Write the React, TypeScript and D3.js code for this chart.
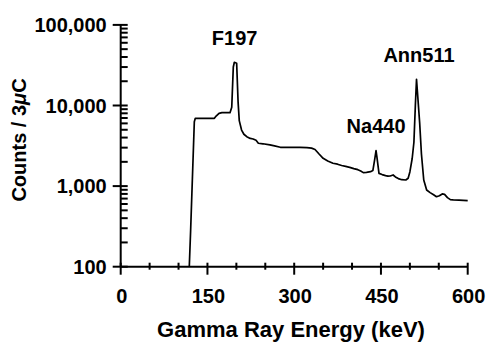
import { useEffect, useRef } from 'react';
import * as d3 from 'd3';

// spectrum: energy (keV) and counts per 3 uC
const energy = [
	118.6, 120.9, 127.3, 129, 162, 165, 170, 175, 189, 192, 194.7, 196.5, 200.5,
	203, 205, 209, 213, 218, 224, 229, 234, 238, 246, 258, 266, 276, 290, 310,
	322, 330, 336, 343, 350, 358, 367, 375, 382, 389, 396, 403, 410, 415, 419.5,
	425, 432, 436, 439, 441.5, 443, 446.6, 452, 458, 462, 466, 471, 475, 480,
	486, 493, 497, 500, 504, 507, 509.5, 511.5, 513, 517, 520, 524, 529, 535,
	541, 546, 551, 556, 560, 565, 570, 575, 585, 600,
];
const counts = [
	100, 280, 6300, 6930, 6930, 7400, 8000, 8150, 8150, 9500, 30000, 34400,
	33500, 11000, 6500, 4960, 4400, 4100, 3900, 3840, 3700, 3400, 3350, 3240,
	3150, 3030, 3030, 3030, 3000, 2960, 2850, 2500, 2210, 2050, 1920, 1870, 1800,
	1760, 1710, 1650, 1600, 1540, 1470, 1480, 1510, 1560, 2100, 2750, 2300, 1440,
	1390, 1350, 1330, 1335, 1374, 1300, 1240, 1200, 1190, 1250, 1500, 2200, 3500,
	10000, 21100, 15000, 6000, 2500, 1190, 895, 830, 780, 738, 760, 800, 790, 720,
	680, 673, 670, 660,
];

const peakNames = ['F197', 'Na440', 'Ann511'];
const peakEnergy = [197, 441.5, 515.8];
const peakLabelAt = [56000, 4560, 34700];

const xTicks = [0, 150, 300, 450, 600];
const xMinor = [50, 100, 200, 250, 350, 400, 500, 550];
const yTicks = [100, 1000, 10000, 100000];

const font = '"Liberation Sans", Arial, sans-serif';

const App = () => {
	const ref = useRef(null);

	useEffect(() => {
		const svg = d3.select(ref.current);
		svg.selectAll('*').remove();

		const x = d3.scaleLinear().domain([0, 600]).range([120.7, 467.7]);
		const y = d3.scaleLog().domain([100, 100000]).range([266.7, 24.9]);

		const ax = svg.append('g').attr('stroke', '#000').attr('stroke-width', 2);

		// y axis line and ticks
		ax.append('line')
			.attr('x1', x(0)).attr('x2', x(0))
			.attr('y1', y(100)).attr('y2', y(100000));
		const yMinor = [];
		for (let d = 100; d < 100000; d *= 10) {
			for (let k = 2; k <= 9; k++) yMinor.push(d * k);
		}
		ax.selectAll('.ymin').data(yMinor).enter().append('line')
			.attr('x1', x(0)).attr('x2', x(0) + 7)
			.attr('y1', (d) => y(d)).attr('y2', (d) => y(d));
		ax.selectAll('.ymaj').data(yTicks).enter().append('line')
			.attr('x1', x(0) - 8).attr('x2', x(0) + 7)
			.attr('y1', (d) => y(d)).attr('y2', (d) => y(d));

		// x axis line and ticks
		ax.append('line')
			.attr('x1', x(0)).attr('x2', x(600))
			.attr('y1', y(100)).attr('y2', y(100));
		ax.selectAll('.xmin').data(xMinor).enter().append('line')
			.attr('x1', (d) => x(d)).attr('x2', (d) => x(d))
			.attr('y1', y(100) - 4).attr('y2', y(100) + 3);
		ax.selectAll('.xmaj').data(xTicks).enter().append('line')
			.attr('x1', (d) => x(d)).attr('x2', (d) => x(d))
			.attr('y1', y(100) - 4).attr('y2', y(100) + 8);

		const fmt = d3.format(',');
		svg.append('g')
			.selectAll('text').data(yTicks).enter().append('text')
			.attr('x', x(0) - 14)
			.attr('y', (d) => y(d))
			.attr('dy', '0.36em')
			.attr('text-anchor', 'end')
			.attr('font-size', 20)
			.text((d) => fmt(d));

		svg.append('g')
			.selectAll('text').data(xTicks).enter().append('text')
			.attr('x', (d) => x(d) + 1)
			.attr('y', y(100) + 36)
			.attr('text-anchor', 'middle')
			.attr('font-size', 20)
			.text((d) => d);

		// spectrum
		const pts = energy.map((e, i) => [e, counts[i]]);
		svg.append('path')
			.datum(pts)
			.attr('fill', 'none')
			.attr('stroke', '#000')
			.attr('stroke-width', 1.7)
			.attr('stroke-linejoin', 'round')
			.attr('d', d3.line().x((d) => x(d[0])).y((d) => y(d[1])));

		svg.append('g')
			.selectAll('text').data(peakNames).enter().append('text')
			.attr('x', (d, i) => x(peakEnergy[i]))
			.attr('y', (d, i) => y(peakLabelAt[i]))
			.attr('text-anchor', 'middle')
			.attr('font-size', 20)
			.text((d) => d);

		// axis titles
		svg.append('text')
			.attr('x', 291)
			.attr('y', 337)
			.attr('text-anchor', 'middle')
			.attr('font-size', 22)
			.text('Gamma Ray Energy (keV)');

		const yt = svg.append('text')
			.attr('transform', 'translate(26,140) rotate(-90)')
			.attr('text-anchor', 'middle')
			.attr('font-size', 20);
		yt.append('tspan').text('Counts / 3');
		yt.append('tspan').attr('font-style', 'italic').text('\u03bc');
		yt.append('tspan').text('C');
	}, []);

	return (
		<svg
			ref={ref}
			width={491}
			height={342}
			style={{ position: 'absolute', left: 0, top: 0, background: '#fff' }}
			fontFamily={font}
			fontWeight='bold'
		/>
	);
};

export default App;
